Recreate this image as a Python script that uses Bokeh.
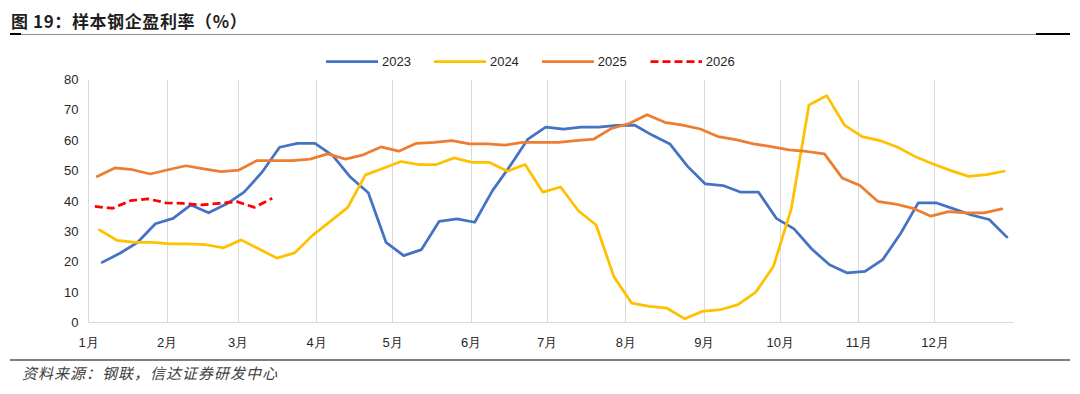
from bokeh.plotting import figure
from bokeh.layouts import column
from bokeh.models import FixedTicker, Legend, LegendItem, Range1d, Div
from bokeh.embed import file_html
from bokeh.resources import INLINE

# ---------------- data ----------------
months = ["1月", "2月", "3月", "4月", "5月", "6月", "7月", "8月", "9月", "10月", "11月", "12月"]
month_start_days = [0, 31, 59, 90, 120, 151, 181, 212, 243, 273, 304, 334]
year_days = 365
y_ticks = [0, 10, 20, 30, 40, 50, 60, 70, 80]
y_max = 80

series_names = ["2023", "2024", "2025", "2026"]
first_day = [5.4, 4.3, 3.4, 2.5]   # day-of-year of each series' first weekly reading
week_days = 7

v2023 = [19.8, 22.8, 26.4, 32.5, 34.3, 38.7, 36.1, 39.0, 42.9, 49.4,
         57.7, 59.0, 59.0, 54.9, 47.8, 42.7, 26.4, 22.0, 24.0, 33.3,
         34.1, 33.0, 43.4, 51.6, 60.4, 64.3, 63.7, 64.3, 64.3, 64.9,
         65.0, 61.7, 58.8, 51.4, 45.6, 45.1, 42.9, 42.9, 34.3, 30.8,
         24.2, 19.0, 16.3, 16.8, 20.7, 29.2, 39.4, 39.4, 37.4, 35.4,
         33.9, 28.1]
v2024 = [30.5, 27.0, 26.4, 26.4, 25.9, 25.9, 25.6, 24.6, 27.2, 24.2,
         21.2, 22.9, 28.6, 33.2, 37.9, 48.6, 50.8, 53.0, 52.0, 52.0,
         54.2, 52.7, 52.7, 49.8, 52.0, 42.9, 44.6, 36.8, 32.1, 15.1,
         6.4, 5.3, 4.7, 1.2, 3.7, 4.2, 5.9, 10.0, 18.5, 37.4,
         71.6, 74.7, 65.0, 61.2, 59.9, 57.7, 54.6, 52.2, 50.0, 48.1,
         48.7, 49.8]
v2025 = [48.1, 50.9, 50.3, 48.9, 50.3, 51.6, 50.6, 49.7, 50.2,
         53.3, 53.3, 53.3, 53.8, 55.5, 53.8, 55.2, 57.8, 56.4, 59.0,
         59.3, 59.9, 58.8, 58.8, 58.4, 59.3, 59.3, 59.3, 59.9, 60.4,
         63.9, 65.5, 68.4, 65.9, 65.0, 63.7, 61.2, 60.2, 58.8, 57.9,
         56.8, 56.3, 55.5, 47.6, 45.1, 39.9, 39.0, 37.6, 35.0, 36.5,
         36.1, 36.1, 37.4]
v2026 = [38.2, 37.6, 40.1, 40.7, 39.4, 39.2, 38.7, 39.2, 39.8, 37.9, 40.9]

values = [v2023, v2024, v2025, v2026]
colors = ["#4472C4", "#FFC000", "#ED7D31", "#FF0000"]
dashes = ["solid", "solid", "solid", "8 4"]

title_text = "图 19：样本钢企盈利率（%）"
source_text = "资料来源：钢联，信达证券研发中心"

# ---------------- layout constants (pixels) ----------------
W = 1080
HEAD_H, MAIN_H, FOOT_H = 43, 309, 42
BORDER_L, BORDER_R, BORDER_T, BORDER_B = 88, 67, 2, 30
PLOT_H = 243          # pixel height of the 0..80 value band
LEGEND_GAP = 34       # pixels between frame top and the value 80 line
y_top = y_max + LEGEND_GAP * y_max / PLOT_H

# ---------------- header (title + rule) ----------------
head_html = (
    f'<div style="position:relative;width:{W}px;height:{HEAD_H}px;">'
    f'<div style="position:absolute;left:11px;top:9px;white-space:nowrap;'
    f'font-family:\'Noto Sans CJK SC\';font-size:17px;font-weight:bold;letter-spacing:0.6px;'
    f'line-height:24px;color:#1F1F1F;">{title_text}</div>'
    f'<div style="position:absolute;left:10px;top:34px;width:1060px;height:1px;background:#8C8C8C;"></div>'
    f'<div style="position:absolute;left:10px;top:33px;width:11px;height:2px;background:#000;"></div>'
    f'<div style="position:absolute;left:1036px;top:33px;width:34px;height:2px;background:#000;"></div>'
    f'</div>'
)
head = Div(text=head_html, width=W, height=HEAD_H, margin=0)

# ---------------- main chart ----------------
p = figure(width=W, height=MAIN_H, output_backend="svg", toolbar_location=None,
           x_range=Range1d(0, year_days), y_range=Range1d(0, y_top),
           min_border_left=BORDER_L, min_border_right=BORDER_R,
           min_border_top=BORDER_T, min_border_bottom=BORDER_B)
p.outline_line_color = None
p.background_fill_color = "white"
p.border_fill_color = "white"

p.ygrid.grid_line_color = None
p.xgrid.ticker = FixedTicker(ticks=month_start_days + [year_days])
p.xgrid.grid_line_color = "#D9D9D9"
p.xgrid.grid_line_width = 1
p.xgrid.cross_bounds = (0, y_max)

p.xaxis.ticker = FixedTicker(ticks=month_start_days)
p.xaxis.major_label_overrides = {d: m for d, m in zip(month_start_days, months)}
p.yaxis.ticker = FixedTicker(ticks=y_ticks)
p.yaxis.bounds = (0, y_max)
for ax in (p.xaxis[0], p.yaxis[0]):
    ax.axis_line_color = "#D9D9D9"
    ax.axis_line_width = 1
    ax.major_tick_line_color = None
    ax.minor_tick_line_color = None
    ax.major_tick_out = 0
    ax.major_tick_in = 0
    ax.major_label_text_font = "Liberation Sans"
    ax.major_label_text_font_size = "13px"
    ax.major_label_text_color = "#262626"
p.xaxis.major_label_standoff = 12
p.yaxis.major_label_standoff = 10

renderers = []
for name, vals, col, dash, d0 in zip(series_names, values, colors, dashes, first_day):
    days = [d0 + week_days * i for i in range(len(vals))]
    r = p.line(days, vals, line_color=col, line_width=2.75, line_dash=dash,
               line_join="round", line_cap="round" if dash == "solid" else "butt")
    renderers.append(r)

legend = Legend(items=[LegendItem(label=n, renderers=[r]) for n, r in zip(series_names, renderers)],
                orientation="horizontal", location=(238, 251), padding=0, margin=0,
                spacing=23, glyph_width=52, glyph_height=20, label_standoff=4,
                label_text_font="Liberation Sans", label_text_font_size="13px",
                label_text_color="#262626", border_line_color=None, background_fill_alpha=0)
p.add_layout(legend)

# ---------------- footer (rule + source) ----------------
foot_html = (
    f'<div style="position:relative;width:{W}px;height:{FOOT_H}px;">'
    f'<div style="position:absolute;left:10px;top:7px;width:1060px;height:1.5px;background:#7F7F7F;"></div>'
    f'<div style="position:absolute;left:22px;top:11px;white-space:nowrap;'
    f'font-family:\'Noto Sans CJK SC\';font-size:15px;font-style:italic;letter-spacing:1px;'
    f'line-height:20px;color:#404040;">{source_text}</div>'
    f'</div>'
)
foot = Div(text=foot_html, width=W, height=FOOT_H, margin=0)

layout = column(head, p, foot, spacing=0)
open("out.html", "w").write(file_html(layout, INLINE))
